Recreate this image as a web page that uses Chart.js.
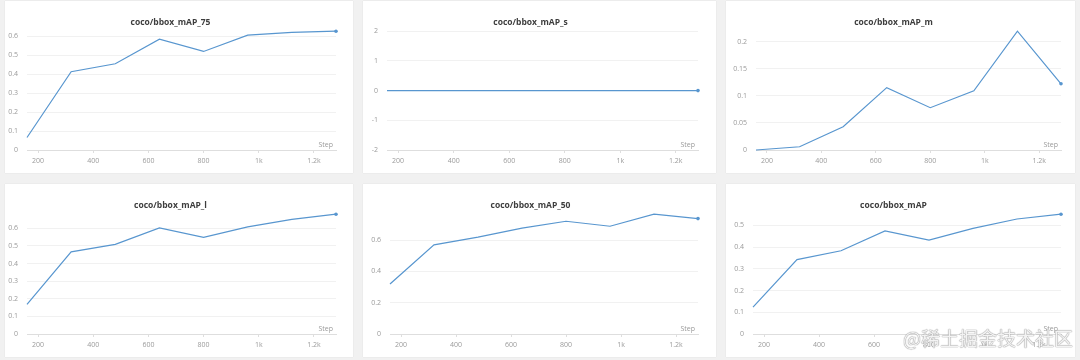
<!DOCTYPE html>
<html>
<head>
<meta charset="utf-8">
<script src="https://cdn.jsdelivr.net/npm/chart.js@4.4.1/dist/chart.umd.min.js"></script>
<style>
  html, body { margin: 0; padding: 0; background: #f1f1f1; width: 1080px; height: 360px; overflow: hidden; }
  .panel { position: absolute; background: #ffffff; box-shadow: 0 0 1px rgba(0,0,0,0.12); }
  .panel canvas { display: block; }
  #wm { position: absolute; left: 903px; top: 324px; font-family: "Noto Sans CJK SC", sans-serif; font-size: 19px;
        color: rgba(255,255,255,0.9); text-shadow: 0 0 1px #888, 0 0 1px #888; white-space: nowrap; }
</style>
</head>
<body>
<script>
// ---- data ----
const steps = [160, 320, 480, 640, 800, 960, 1120, 1280];
const titles = ['coco/bbox_mAP_75', 'coco/bbox_mAP_s', 'coco/bbox_mAP_m', 'coco/bbox_mAP_l', 'coco/bbox_mAP_50', 'coco/bbox_mAP'];
const mAP75 = [0.066, 0.414, 0.456, 0.586, 0.521, 0.607, 0.622, 0.628];
const mAPs  = [0, 0, 0, 0, 0, 0, 0, 0];
const mAPm  = [0.000, 0.006, 0.043, 0.115, 0.078, 0.109, 0.219, 0.122];
const mAPl  = [0.168, 0.466, 0.509, 0.602, 0.549, 0.608, 0.651, 0.680];
const mAP50 = [0.320, 0.570, 0.619, 0.677, 0.721, 0.689, 0.766, 0.738];
const mAP   = [0.124, 0.342, 0.383, 0.474, 0.432, 0.486, 0.529, 0.551];
const xTicks = [200, 400, 600, 800, 1000, 1200];
const xTickLabels = ['200', '400', '600', '800', '1k', '1.2k'];
const yTicks75 = [0, 0.1, 0.2, 0.3, 0.4, 0.5, 0.6];
const yTicksS  = [-2, -1, 0, 1, 2];
const yTicksM  = [0, 0.05, 0.1, 0.15, 0.2];
const yTicksL  = [0, 0.1, 0.2, 0.3, 0.4, 0.5, 0.6];
const yTicks50 = [0, 0.2, 0.4, 0.6];
const yTicksAll = [0, 0.1, 0.2, 0.3, 0.4, 0.5];
const xAxisName = 'Step';

const seriesList = [mAP75, mAPs, mAPm, mAPl, mAP50, mAP];
const yTickList = [yTicks75, yTicksS, yTicksM, yTicksL, yTicks50, yTicksAll];

// ---- layout ----
const boxes = [
  {l: 5,   t: 1,   w: 348, h: 172, ya: 22, pr: 17},
  {l: 363, t: 1,   w: 353, h: 172, ya: 24, pr: 18},
  {l: 726, t: 1,   w: 349, h: 172, ya: 30, pr: 14},
  {l: 5,   t: 184, w: 348, h: 173, ya: 22, pr: 17},
  {l: 363, t: 184, w: 353, h: 173, ya: 27, pr: 18},
  {l: 726, t: 184, w: 349, h: 173, ya: 27, pr: 14}
];

const FONT = '"Open Sans", "Noto Sans", sans-serif';
const LINE = '#5896cf';

const stepLabel = {
  id: 'stepLabel',
  afterDraw(chart) {
    const {ctx, chartArea} = chart;
    ctx.save();
    ctx.font = '7px ' + FONT;
    ctx.fillStyle = '#9a9a9a';
    ctx.textAlign = 'right';
    ctx.textBaseline = 'bottom';
    ctx.fillText(xAxisName, chartArea.right - 3, chartArea.bottom - 2);
    ctx.restore();
  }
};

seriesList.forEach((vals, i) => {
  const b = boxes[i];
  const div = document.createElement('div');
  div.className = 'panel';
  div.style.left = b.l + 'px'; div.style.top = b.t + 'px';
  div.style.width = b.w + 'px'; div.style.height = b.h + 'px';
  const cv = document.createElement('canvas');
  cv.width = b.w; cv.height = b.h;
  cv.style.width = b.w + 'px'; cv.style.height = b.h + 'px';
  div.appendChild(cv);
  document.body.appendChild(div);

  const yt = yTickList[i];
  const yMin = yt[0];
  const yMax = Math.max(yt[yt.length - 1], ...vals);
  const last = vals.length - 1;

  new Chart(cv, {
    type: 'line',
    data: {
      datasets: [{
        data: steps.map((s, k) => ({x: s, y: vals[k]})),
        borderColor: LINE,
        backgroundColor: LINE,
        borderWidth: 1.2,
        tension: 0,
        clip: 4,
        pointRadius: ctx => ctx.dataIndex === last ? 1.8 : 0,
        pointBorderWidth: 0,
        pointHoverRadius: 0
      }]
    },
    options: {
      responsive: false,
      animation: false,
      events: [],
      layout: { padding: { left: 0, right: b.pr, top: 0, bottom: 0 } },
      plugins: {
        legend: { display: false },
        tooltip: { enabled: false },
        title: {
          display: true,
          text: titles[i],
          color: '#3d3d3d',
          font: { family: FONT, size: 8.5, weight: 'bold', lineHeight: 1.2 },
          padding: { top: 16, bottom: 4 }
        }
      },
      scales: {
        x: {
          type: 'linear',
          min: steps[0],
          max: steps[steps.length - 1],
          afterBuildTicks: ax => { ax.ticks = xTicks.map(v => ({value: v})); },
          afterFit: sc => { sc.height = 23; },
          border: { display: true, color: '#dedede', width: 1 },
          grid: { display: true, drawOnChartArea: false, drawTicks: true, tickLength: 3, color: '#dedede' },
          ticks: {
            color: '#9a9a9a',
            font: { family: FONT, size: 7 },
            padding: 4,
            maxRotation: 0,
            autoSkip: false,
            callback: v => { const k = xTicks.indexOf(v); return k >= 0 ? xTickLabels[k] : ''; }
          }
        },
        y: {
          min: yMin,
          max: yMax,
          afterBuildTicks: ax => { ax.ticks = yt.map(v => ({value: v})); },
          afterFit: sc => { sc.width = b.ya; },
          border: { display: false },
          grid: { color: '#f1f1f1', drawTicks: false, lineWidth: 1 },
          ticks: {
            color: '#9a9a9a',
            font: { family: FONT, size: 7 },
            padding: 9,
            autoSkip: false,
            callback: v => String(v)
          }
        }
      }
    },
    plugins: [stepLabel]
  });
});

const wm = document.createElement('div');
wm.id = 'wm';
wm.textContent = '@稀土掘金技术社区';
document.body.appendChild(wm);
</script>
</body>
</html>
